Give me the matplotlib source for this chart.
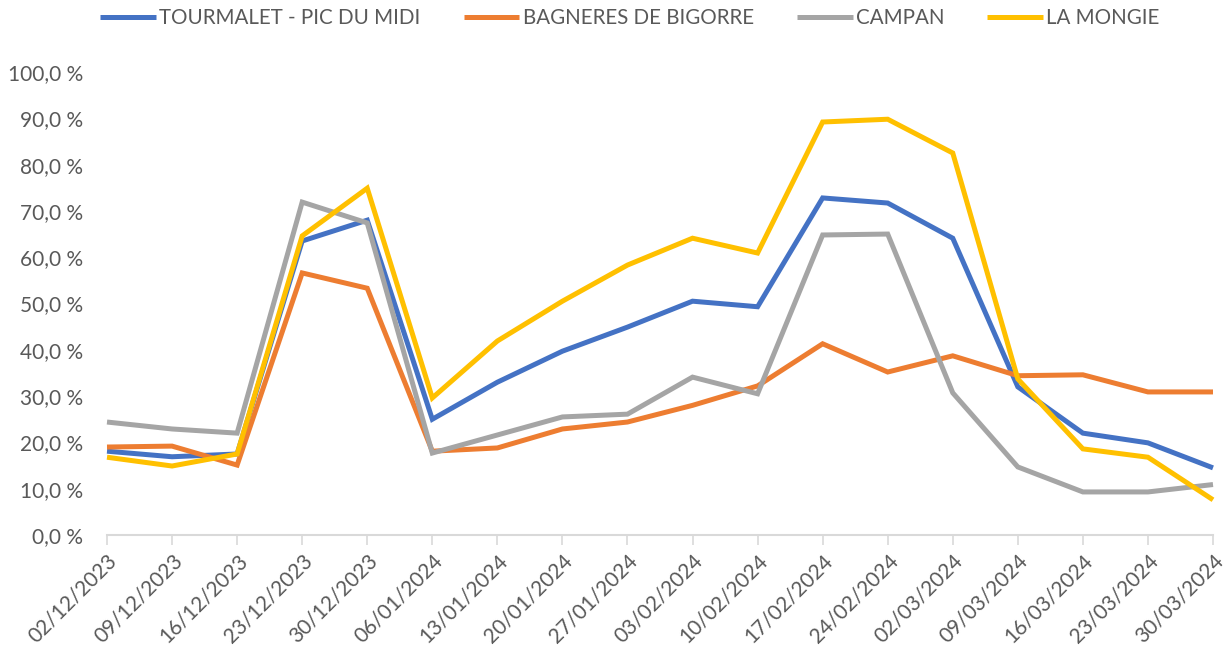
import matplotlib.pyplot as plt

# weekly dates (category axis)
dates = ['02/12/2023', '09/12/2023', '16/12/2023', '23/12/2023', '30/12/2023',
         '06/01/2024', '13/01/2024', '20/01/2024', '27/01/2024', '03/02/2024',
         '10/02/2024', '17/02/2024', '24/02/2024', '02/03/2024', '09/03/2024',
         '16/03/2024', '23/03/2024', '30/03/2024']

# occupancy, in %
tourmalet = [18.1, 16.9, 17.5, 63.5, 68.0, 25.0, 33.0, 39.7, 44.9, 50.5,
             49.3, 72.8, 71.7, 64.1, 32.0, 22.0, 19.9, 14.5]
bagneres = [19.0, 19.2, 15.1, 56.6, 53.3, 18.1, 18.8, 22.9, 24.4, 28.0,
            32.2, 41.3, 35.2, 38.7, 34.4, 34.6, 30.9, 30.9]
campan = [24.4, 22.9, 22.0, 71.9, 67.4, 17.7, 21.6, 25.5, 26.1, 34.1,
          30.5, 64.8, 65.0, 30.7, 14.7, 9.3, 9.3, 10.9]
la_mongie = [16.8, 14.9, 17.5, 64.6, 74.9, 29.6, 41.9, 50.5, 58.3, 64.1,
             60.9, 89.2, 89.8, 82.5, 33.7, 18.6, 16.8, 7.6]

series = [
    ('TOURMALET - PIC DU MIDI', tourmalet, '#4472C4'),
    ('BAGNERES DE BIGORRE', bagneres, '#ED7D31'),
    ('CAMPAN', campan, '#A5A5A5'),
    ('LA MONGIE', la_mongie, '#FFC000'),
]

plt.rcParams['font.family'] = ['Lato', 'DejaVu Sans']
txt = '#595959'

fig = plt.figure(figsize=(12.31, 6.51), dpi=100)
ax = fig.add_axes([107 / 1231, 1 - 535 / 651, (1213 - 107) / 1231, (535 - 72) / 651])

x = list(range(len(dates)))
for name, vals, col in series:
    ax.plot(x, vals, color=col, lw=3.6, label=name, clip_on=False,
            solid_joinstyle='miter', solid_capstyle='butt')

ax.set_xlim(0, len(dates) - 1)
ax.set_ylim(0, 100)
ax.set_yticks(range(0, 101, 10))
ax.set_yticklabels([f'{v},0 %' for v in range(0, 101, 10)], fontsize=15, color=txt)
ax.tick_params(axis='y', length=0, pad=17)

ax.set_xticks(x)
ax.set_xticklabels(dates, rotation=45, ha='right', rotation_mode='anchor',
                   fontsize=15, color=txt)
ax.tick_params(axis='x', length=7, color='#D9D9D9', width=1.2, pad=4)

for s in ['top', 'right', 'left']:
    ax.spines[s].set_visible(False)
ax.spines['bottom'].set_color('#D9D9D9')
ax.spines['bottom'].set_linewidth(1.5)

leg = fig.legend(loc='center', bbox_to_anchor=(630 / 1231, 1 - 18 / 651), ncol=4,
                 frameon=False, fontsize=14.8, handlelength=2.72, handletextpad=0.15,
                 columnspacing=2.1, borderpad=0)
for t in leg.get_texts():
    t.set_color(txt)

fig.savefig('out.png', dpi=100)
